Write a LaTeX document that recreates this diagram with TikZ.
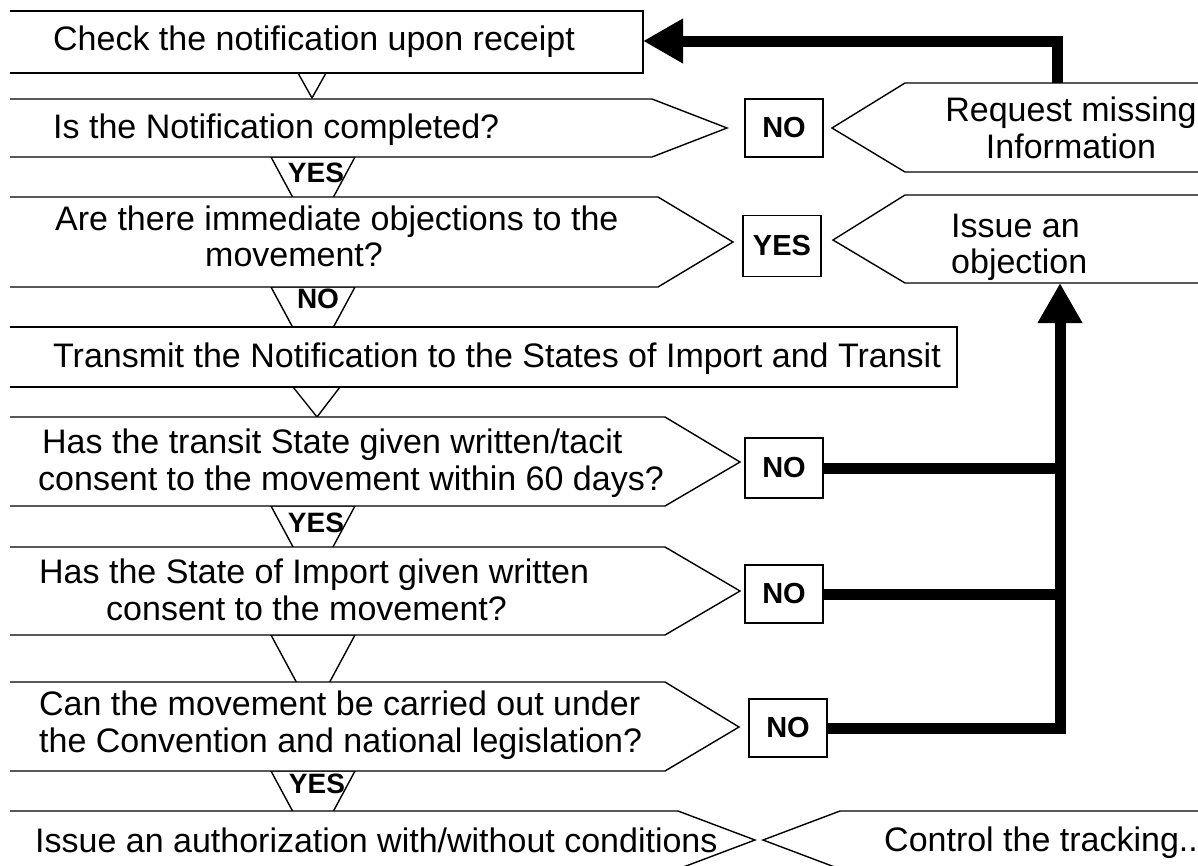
\documentclass[tikz,border=0pt]{standalone}
\usepackage{fontspec}
\setmainfont{Liberation Sans}
\usetikzlibrary{arrows.meta}
% a step outline: white fill as a closed area, stroke left open on the left
\newcommand\flowshape[1]{\fill[white] #1 -- cycle; \draw[outline] #1;}
\begin{document}
\begin{tikzpicture}[x=1pt,y=-1pt,
  outline/.style={line width=1.4pt, line join=miter},
  vee/.style={line width=1.4pt, line join=miter, fill=white},
  txt/.style={inner sep=0pt, anchor=base west, font=\fontsize{34}{36}\selectfont},
  ctxt/.style={inner sep=0pt, anchor=base, font=\fontsize{34}{36}\selectfont},
  answer/.style={draw, line width=1.4pt, fill=white, minimum width=78pt, minimum height=58pt,
    inner sep=0pt, font=\fontsize{29}{32}\selectfont\bfseries},
  branch/.style={inner sep=0pt, anchor=base, font=\fontsize{28}{30}\selectfont\bfseries},
  bus/.style={line width=11pt, line join=miter},
  bigtip/.style={-{Triangle[length=40pt,width=42pt]}}
]
\fill[white] (0,0) rectangle (1198,865);
\useasboundingbox (0,0) rectangle (1198,865);

% flow arrows between the steps (partly hidden by the next step)
\filldraw[vee] (298,73) -- (326,73) -- (312,98) -- cycle;
\filldraw[vee] (271,157) -- (355,157) -- (313,235) -- cycle;
\filldraw[vee] (271,287) -- (355,287) -- (313,365) -- cycle;
\filldraw[vee] (293,387) -- (340,387) -- (317,417) -- cycle;
\filldraw[vee] (271,506) -- (355,506) -- (313,584) -- cycle;
\filldraw[vee] (271,635) -- (355,635) -- (313,713) -- cycle;
\filldraw[vee] (271,771) -- (355,771) -- (313,849) -- cycle;

% main column of steps
\flowshape{(10,11) -- (643,11) -- (643,73) -- (10,73)}
\flowshape{(10,99) -- (652,99) -- (727,128) -- (652,157) -- (10,157)}
\flowshape{(10,197) -- (658,197) -- (733,242) -- (658,287) -- (10,287)}
\flowshape{(10,327) -- (957,327) -- (957,387) -- (10,387)}
\flowshape{(10,417) -- (665,417) -- (740,462) -- (665,506) -- (10,506)}
\flowshape{(10,547) -- (665,547) -- (740,591) -- (665,635) -- (10,635)}
\flowshape{(10,682) -- (665,682) -- (739,727) -- (665,771) -- (10,771)}
\flowshape{(10,811) -- (678,811) -- (755,840) -- (678,869) -- (10,869)}

% outcome steps on the right
\flowshape{(1210,83) -- (905,83) -- (832,128) -- (905,172) -- (1210,172)}
\flowshape{(1210,195) -- (905,195) -- (833,240) -- (905,283) -- (1210,283)}
\flowshape{(1210,811) -- (840,811) -- (763,840) -- (840,869) -- (1210,869)}

% step texts
\node[txt] (s1) at (53,50) {Check the notification upon receipt};
\node[txt] (q1) at (53,138) {Is the Notification completed?};
\node[txt] (q2a) at (55,230) {Are there immediate objections to the};
\node[txt] (q2b) at (205,266) {movement?};
\node[txt] (s2) at (53,367) {Transmit the Notification to the States of Import and Transit};
\node[txt] (q3a) at (42,453) {Has the transit State given written/tacit};
\node[txt] (q3b) at (38,490) {consent to the movement within 60 days?};
\node[txt] (q4a) at (39,583) {Has the State of Import given written};
\node[txt] (q4b) at (106,620) {consent to the movement?};
\node[txt] (q5a) at (39,715) {Can the movement be carried out under};
\node[txt] (q5b) at (39,752) {the Convention and national legislation?};
\node[txt] (s3) at (35,852) {Issue an authorization with/without conditions};
\node[ctxt] (r1a) at (1071,121) {Request missing};
\node[ctxt] (r1b) at (1071,158) {Information};
\node[txt] (r2a) at (951,237) {Issue an};
\node[txt] (r2b) at (951,273) {objection};
\node[txt] (r3) at (884,851) {Control the tracking..};

% answers on the arrows
\node[branch] (b1) at (316,182) {YES};
\node[branch] (b2) at (318,308) {NO};
\node[branch] (b3) at (316,532) {YES};
\node[branch] (b4) at (317,793) {YES};

% answer boxes beside the questions
\node[answer] (a1) at (784,128) {NO};
\node[answer, minimum height=61pt] (a2) at (782,246) {YES};
\node[answer, minimum height=60pt] (a3) at (784,468) {NO};
\node[answer] (a4) at (784,594) {NO};
\node[answer] (a5) at (788,728) {NO};

% feedback connectors
\coordinate (reqtop) at (1057,83);
\coordinate (chkright) at (643,41);
\coordinate (bus) at (1060,728);
\coordinate (objbottom) at (1060,283);
\draw[bus, bigtip] (reqtop) |- (chkright);
\draw[bus, bigtip] (a5.east) -- (bus) -- (objbottom);
\draw[bus] (a3.east) -- (a3.east -| bus);
\draw[bus] (a4.east) -- (a4.east -| bus);
\end{tikzpicture}
\end{document}
